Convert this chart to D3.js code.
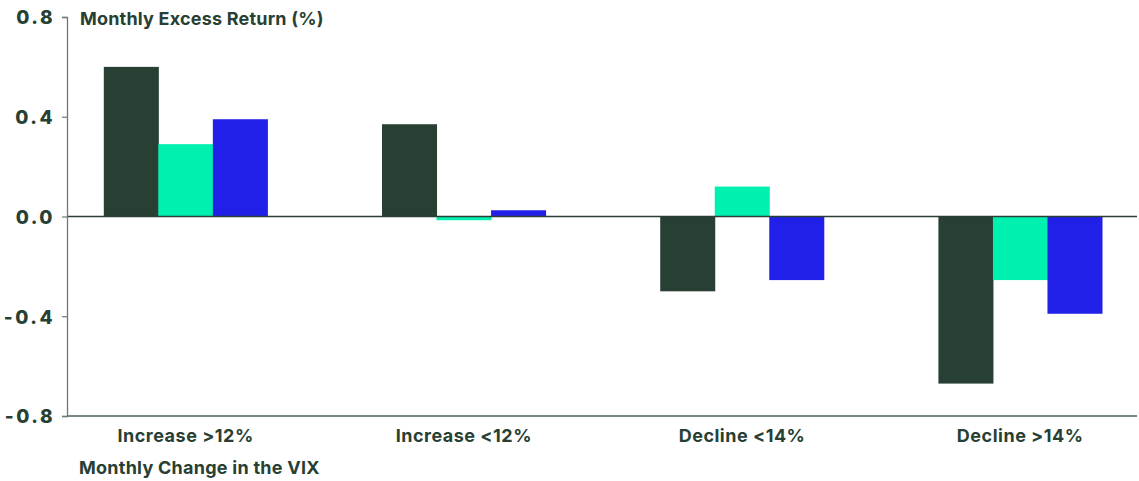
<!DOCTYPE html>
<html>
<head>
<meta charset="utf-8">
<script src="https://cdn.jsdelivr.net/npm/d3@7/dist/d3.min.js"></script>
<style>
  html, body { margin: 0; padding: 0; background: #ffffff; }
  svg { display: block; }
  text { font-family: Inter, "Liberation Sans", Arial, sans-serif; fill: #283f33; font-weight: 700; }
</style>
</head>
<body>
<svg id="chart" width="1139" height="481"></svg>
<script>
// Monthly excess return by VIX-change bucket
const categories = ["Increase >12%", "Increase <12%", "Decline <14%", "Decline >14%"];
const seriesNames = ["Series A", "Series B", "Series C"];
const seriesA = [0.60, 0.37, -0.30, -0.67];
const seriesB = [0.29, -0.015, 0.12, -0.255];
const seriesC = [0.39, 0.025, -0.255, -0.39];
const yTicks = [0.8, 0.4, 0.0, -0.4, -0.8];
const colors = ["#283f33", "#00f0b0", "#2020e8"];

const seriesValues = [seriesA, seriesB, seriesC];
const rows = categories.map((c, i) => ({
  category: c,
  values: seriesNames.map((s, j) => ({ series: s, value: seriesValues[j][i] }))
}));

const svg = d3.select("#chart");
const plotLeft = 67, plotRight = 1137, plotTop = 17, plotBottom = 416;

const y = d3.scaleLinear().domain([-0.8, 0.8]).range([plotBottom, plotTop]);

const x0 = d3.scaleBand()
  .domain(categories)
  .range([46.5, 1159.3])
  .paddingInner(0.412)
  .paddingOuter(0.206);

const x1 = d3.scaleBand()
  .domain(seriesNames)
  .range([0, x0.bandwidth()])
  .padding(0);

const color = d3.scaleOrdinal().domain(seriesNames).range(colors);

// Bars
const groups = svg.append("g")
  .selectAll("g")
  .data(rows)
  .join("g")
  .attr("transform", d => `translate(${x0(d.category)},0)`);

groups.selectAll("rect")
  .data(d => d.values)
  .join("rect")
  .attr("x", d => x1(d.series))
  .attr("width", x1.bandwidth() + 0.5)
  .attr("y", d => y(Math.max(0, d.value)))
  .attr("height", d => Math.abs(y(d.value) - y(0)))
  .attr("fill", d => color(d.series));

// Zero line
svg.append("line")
  .attr("x1", plotLeft).attr("x2", plotRight)
  .attr("y1", y(0)).attr("y2", y(0))
  .attr("stroke", "#283f33").attr("stroke-width", 1.6);

// Bottom baseline
svg.append("line")
  .attr("x1", plotLeft).attr("x2", plotRight)
  .attr("y1", y(-0.8)).attr("y2", y(-0.8))
  .attr("stroke", "#4c5f55").attr("stroke-width", 1.3);

// Y axis (plain hyphen for negatives)
const fmt = d3.format(".1f");
const yAxis = d3.axisLeft(y)
  .tickValues(yTicks)
  .tickSize(5)
  .tickPadding(7)
  .tickFormat(d => fmt(d).replace("\u2212", "-"));

const yg = svg.append("g")
  .attr("transform", `translate(${plotLeft},0)`)
  .call(yAxis);
yg.select(".domain").attr("stroke", "#6b7a72").attr("stroke-width", 1.3);
yg.selectAll(".tick line").attr("stroke", "#6b7a72").attr("stroke-width", 1.2);
yg.selectAll(".tick text")
  .attr("x", -12)
  .attr("dy", "0.36em")
  .style("font-size", "19px")
  .style("letter-spacing", "2.5px")
  .style("fill", "#283f33")
  .style("font-family", "Inter, 'Liberation Sans', Arial, sans-serif")
  .style("font-weight", "800");

// Category labels
const xAxis = d3.axisBottom(x0).tickSize(0).tickPadding(0);
const xg = svg.append("g")
  .attr("transform", `translate(0,${plotBottom})`)
  .call(xAxis);
xg.select(".domain").remove();
xg.selectAll(".tick text")
  .attr("y", 26)
  .attr("dy", 0)
  .style("font-size", "18px")
  .style("letter-spacing", "0.5px")
  .style("fill", "#283f33")
  .style("font-family", "Inter, 'Liberation Sans', Arial, sans-serif")
  .style("font-weight", "700");

// Titles
svg.append("text")
  .attr("x", 80).attr("y", 25)
  .style("font-size", "18px")
  .style("letter-spacing", "0.2px")
  .text("Monthly Excess Return (%)");

svg.append("text")
  .attr("x", 79).attr("y", 474)
  .style("font-size", "18px")
  .style("letter-spacing", "0.25px")
  .text("Monthly Change in the VIX");
</script>
</body>
</html>
